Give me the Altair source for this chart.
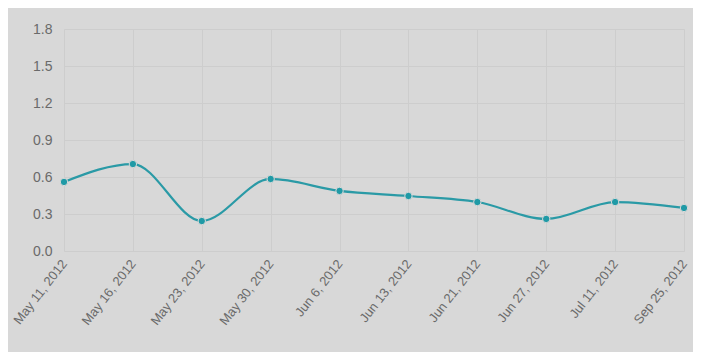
import altair as alt
import pandas as pd

dates = ["May 11, 2012", "May 16, 2012", "May 23, 2012", "May 30, 2012", "Jun 6, 2012",
         "Jun 13, 2012", "Jun 21, 2012", "Jun 27, 2012", "Jul 11, 2012", "Sep 25, 2012"]
values = [0.56, 0.705, 0.243, 0.584, 0.487, 0.446, 0.397, 0.26, 0.397, 0.349]

df = pd.DataFrame({"date": dates, "value": values})

x = alt.X("date:N", sort=dates, title=None,
          scale=alt.Scale(type="point", padding=0),
          axis=alt.Axis(labelAngle=-52, labelAlign="right", labelBaseline="middle",
                        labelFontSize=13, labelColor="#6a6a6a", labelFont="Liberation Sans",
                        ticks=False, domain=False, labelPadding=10,
                        grid=True, gridColor="#cdcdcd", labelOverlap=False))
y = alt.Y("value:Q", title=None,
          scale=alt.Scale(domain=[0, 1.8], nice=False),
          axis=alt.Axis(values=[0, 0.3, 0.6, 0.9, 1.2, 1.5, 1.8], format=".1f",
                        labelFontSize=14, labelColor="#6a6a6a", labelFont="Liberation Sans",
                        ticks=False, domain=False, labelPadding=12,
                        grid=True, gridColor="#cdcdcd"))

base = alt.Chart(df).encode(x=x, y=y)
line = base.mark_line(interpolate="monotone", color="#2a9aa6", strokeWidth=2.2)
pts = base.mark_circle(size=55, color="#1f9aa6", opacity=1, stroke="#d9d9d9", strokeWidth=1)

chart = (line + pts).properties(
    width=620, height=222,
    autosize=alt.AutoSizeParams(type="none"),
    padding={"left": 56, "top": 21, "right": 9, "bottom": 101},
).configure(background="#d8d8d8").configure_view(stroke=None)

chart.save("out.html", embed_options={"renderer": "svg", "actions": False})
